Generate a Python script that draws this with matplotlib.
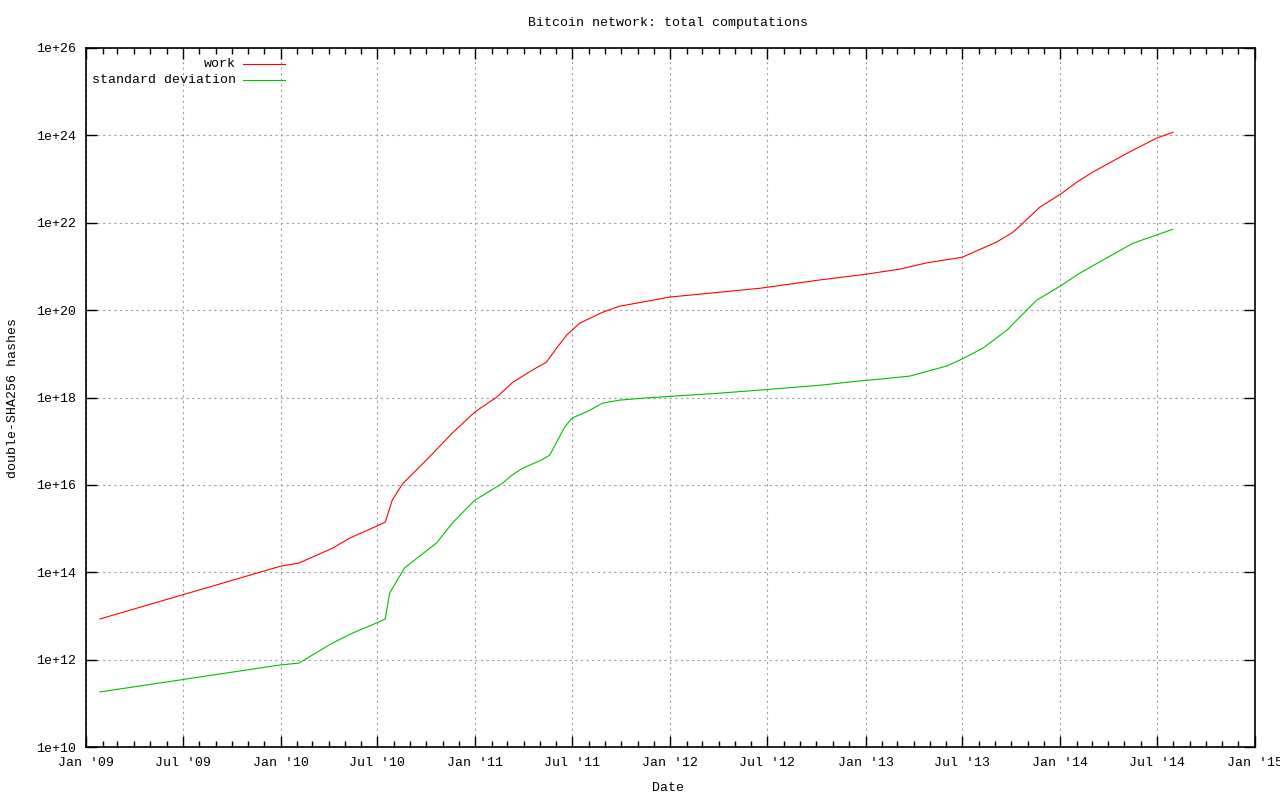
import matplotlib
matplotlib.use("Agg")
import matplotlib.pyplot as plt
import matplotlib.dates as mdates
from matplotlib.ticker import FixedLocator, FuncFormatter, NullLocator
import numpy as np
import pandas as pd

# values (log10 of hashes)
work_dates = ["2009-01-27", "2010-01-01", "2010-02-04", "2010-04-08", "2010-05-10",
              "2010-07-08", "2010-07-16", "2010-07-29", "2010-08-17", "2010-10-01",
              "2010-11-19", "2010-12-31", "2011-02-10", "2011-03-12", "2011-04-18",
              "2011-05-14", "2011-06-02", "2011-06-21", "2011-07-15", "2011-08-27",
              "2011-09-28", "2011-10-30", "2012-01-01", "2012-04-03", "2012-06-17",
              "2012-10-07", "2013-01-01", "2013-03-07", "2013-04-25", "2013-07-01",
              "2013-09-04", "2013-10-04", "2013-10-23", "2013-11-24", "2014-01-01",
              "2014-02-01", "2014-03-03", "2014-05-06", "2014-07-01", "2014-07-31"]
work_exp = [12.93, 14.14, 14.21, 14.55, 14.78,
            15.10, 15.15, 15.65, 16.02, 16.57,
            17.19, 17.67, 18.01, 18.35, 18.63,
            18.81, 19.13, 19.43, 19.70, 19.95,
            20.09, 20.16, 20.30, 20.41, 20.50,
            20.69, 20.82, 20.94, 21.08, 21.21,
            21.56, 21.78, 21.99, 22.36, 22.65,
            22.93, 23.16, 23.59, 23.94, 24.07]

sd_dates = ["2009-01-27", "2010-01-01", "2010-02-04", "2010-04-08", "2010-05-16",
            "2010-06-30", "2010-07-16", "2010-07-24", "2010-08-21", "2010-10-20",
            "2010-11-19", "2010-12-16", "2010-12-31", "2011-02-21", "2011-03-10",
            "2011-03-30", "2011-05-05", "2011-05-20", "2011-06-17", "2011-07-01",
            "2011-07-28", "2011-08-27", "2011-09-28", "2011-11-17", "2012-04-03",
            "2012-06-17", "2012-10-07", "2012-12-22", "2013-01-28", "2013-03-25",
            "2013-06-02", "2013-07-01", "2013-08-09", "2013-09-23", "2013-10-17",
            "2013-11-18", "2014-01-01", "2014-02-07", "2014-05-17", "2014-07-31"]
sd_exp = [11.26, 11.88, 11.92, 12.38, 12.61,
          12.84, 12.93, 13.52, 14.10, 14.67,
          15.13, 15.47, 15.65, 16.04, 16.22,
          16.38, 16.57, 16.68, 17.32, 17.53,
          17.67, 17.87, 17.94, 17.99, 18.10,
          18.17, 18.28, 18.38, 18.42, 18.49,
          18.72, 18.88, 19.13, 19.54, 19.84,
          20.23, 20.55, 20.85, 21.53, 21.85]

y_tick_exps = list(range(10, 27, 2))

plt.rcParams['font.family'] = ['Liberation Mono', 'DejaVu Sans Mono']
plt.rcParams['font.size'] = 9.5

fig = plt.figure(figsize=(12.8, 8), dpi=100)
ax = fig.add_axes([86/1280, 53/800, 1169/1280, 699/800])

lw = 0.8
ax.plot(pd.to_datetime(work_dates), 10.0 ** np.array(work_exp), color="#ff0000", lw=lw)
ax.plot(pd.to_datetime(sd_dates), 10.0 ** np.array(sd_exp), color="#00c000", lw=lw)

ax.set_yscale("log")
ax.set_ylim(1e10, 1e26)
ax.set_xlim(pd.Timestamp("2009-01-01"), pd.Timestamp("2015-01-01"))

ax.yaxis.set_major_locator(FixedLocator([10.0 ** e for e in y_tick_exps]))
ax.yaxis.set_minor_locator(NullLocator())
ax.yaxis.set_major_formatter(FuncFormatter(lambda v, p: "1e+%d" % round(np.log10(v))))

ax.xaxis.set_major_locator(mdates.MonthLocator(bymonth=[1, 7]))
ax.xaxis.set_minor_locator(mdates.MonthLocator())
ax.xaxis.set_major_formatter(mdates.DateFormatter("%b '%y"))

ax.tick_params(which="both", direction="in", top=True, right=True, width=1)
ax.tick_params(which="major", length=8)
ax.tick_params(which="minor", length=4)
ax.tick_params(axis="x", pad=7)
ax.tick_params(axis="y", pad=7)

ax.grid(True, which="major", color="#a0a0a0", linestyle=(0, (2, 3)), lw=0.8)
for s in ax.spines.values():
    s.set_linewidth(1.2)

# gnuplot style key, text right aligned before the sample line
ax.text(0.128, 0.977, "work", transform=ax.transAxes, ha="right", va="center")
ax.plot([0.134, 0.170], [0.977, 0.977], transform=ax.transAxes, color="#ff0000", lw=lw)
ax.text(0.128, 0.954, "standard deviation", transform=ax.transAxes, ha="right", va="center")
ax.plot([0.134, 0.170], [0.954, 0.954], transform=ax.transAxes, color="#00c000", lw=lw)

fig.text(668/1280, 1 - 23/800, "Bitcoin network: total computations", ha="center", va="center")
fig.text(668/1280, 1 - 788/800, "Date", ha="center", va="center")
fig.text(13/1280, 1 - 398/800, "double-SHA256 hashes", ha="center", va="center", rotation=90)

fig.savefig("out.png", dpi=100)
